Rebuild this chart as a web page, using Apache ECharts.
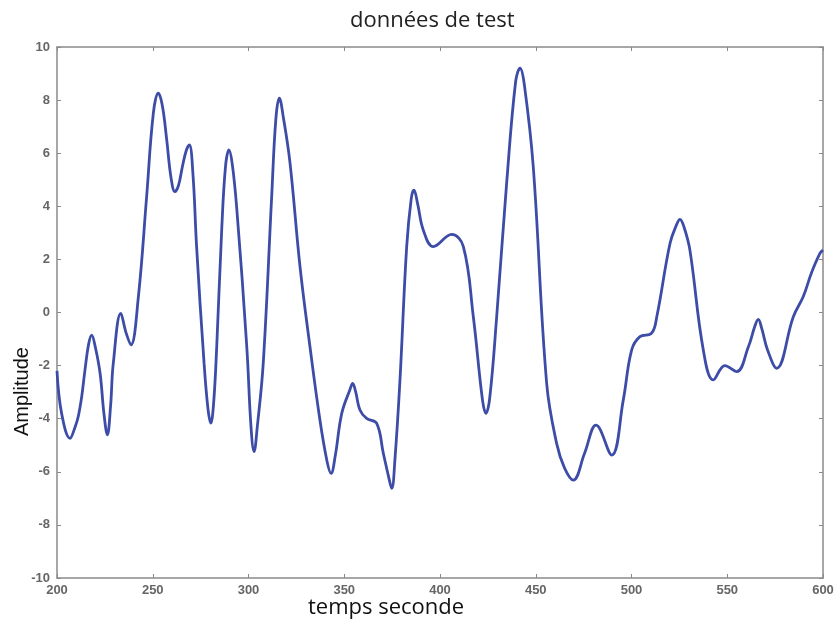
<!DOCTYPE html>
<html>
<head>
<meta charset="utf-8">
<script src="https://cdn.jsdelivr.net/npm/echarts@6/dist/echarts.min.js"></script>
<style>
  html, body { margin: 0; padding: 0; background: #fff; }
  #chart { width: 838px; height: 620px; }
</style>
</head>
<body>
<div id="chart"></div>
<script>
// Test signal: time (s) and amplitude samples
const timeSec = [
  200, 202.4, 206.8, 209.5, 211.1, 212.9, 214.6, 216.5, 218.1, 220,
  222.5, 224.5, 226.3, 228, 229.4, 233.3, 236, 238.6, 242.5, 246.8,
  250.3, 252.9, 255, 257.3, 259.5, 261.6, 263.5, 265.5, 267.5, 269.1,
  271, 272.9, 276.8, 278.8, 280.3, 281.8, 283.4, 286, 288, 289.8,
  291.5, 293.8, 299.1, 301.3, 302.9, 304.6, 307.7, 312.1, 314.3, 316.1,
  318.3, 321.7, 326.9, 332.1, 337.3, 341, 343.1, 345.3, 348.7, 353,
  354.4, 356, 358.2, 361.7, 366.9, 370.4, 373.2, 374.8, 376.5, 379.1,
  382.6, 385, 386.4, 388.3, 391.3, 396.5, 406.1, 412.2, 417.4, 422.2,
  424, 426, 429.6, 434.8, 439.5, 441.8, 444, 448.7, 455.7, 460.9,
  465, 469.6, 475.5, 481.5, 489.7, 495.7, 500.1, 504.4, 510.5, 513.2,
  520.1, 523.5, 525.3, 527.5, 530.5, 537.5, 542.7, 548.8, 554.9, 561,
  564.5, 566.2, 568, 571, 575.8, 584.5, 589.7, 594, 598.4, 600
];
const amplitude = [
  -2.2, -3.8, -4.74, -4.3, -3.92, -3.17, -2.17, -1.2, -0.85, -1.3,
  -2.29, -3.8, -4.61, -3.5, -1.91, -0.03, -0.75, -1.22, 0.6, 4.36,
  7.5, 8.26, 7.8, 6.5, 5.1, 4.55, 4.8, 5.5, 6.1, 6.31,
  5.2, 2.48, -1.91, -3.6, -4.17, -3.4, -1.29, 3.1, 5.5, 6.12,
  5.6, 3.98, -1.29, -4.3, -5.24, -4.3, -1.91, 4.36, 7.3, 8.07,
  7.3, 5.62, 1.73, -1.29, -4.05, -5.6, -6.06, -5.4, -3.8, -2.9,
  -2.67, -3.0, -3.67, -3.99, -4.17, -5.3, -6.2, -6.62, -5.5, -2.54,
  2.48, 4.3, 4.61, 4.1, 3.1, 2.48, 2.94, 2.48, -0.16, -3.3,
  -3.8, -3.2, -0.16, 4.87, 8.7, 9.2, 8.6, 5.49, -2.67, -4.93,
  -5.85, -6.31, -5.3, -4.24, -5.37, -3.3, -1.41, -0.91, -0.78, -0.16,
  2.6, 3.3, 3.51, 3.2, 2.35, -1.41, -2.54, -2.0, -2.23, -1.3,
  -0.5, -0.26, -0.6, -1.4, -2.1, -0.16, 0.6, 1.5, 2.23, 2.35
];

const chartTitle = 'données de test';
const xLabel = 'temps seconde';
const yLabel = 'Amplitude';

const points = timeSec.map((t, i) => [t, amplitude[i]]);

const chart = echarts.init(document.getElementById('chart'), null, { renderer: 'canvas' });

const boxColor = '#8a8a8a';
const tickFont = { color: '#666', fontSize: 13, fontWeight: 'bold', fontFamily: 'Liberation Sans, Arial, sans-serif' };

const baseX = {
  type: 'value', min: 200, max: 600, interval: 50,
  axisLine: { show: true, onZero: false, lineStyle: { color: boxColor, width: 1.5 } },
  axisTick: { show: true, inside: true, length: 4, lineStyle: { color: boxColor } },
  splitLine: { show: false }
};
const baseY = {
  type: 'value', min: -10, max: 10, interval: 2,
  axisLine: { show: true, onZero: false, lineStyle: { color: boxColor, width: 1.5 } },
  axisTick: { show: true, inside: true, length: 4, lineStyle: { color: boxColor } },
  splitLine: { show: false }
};

chart.setOption({
  backgroundColor: '#ffffff',
  animation: false,
  title: {
    text: chartTitle,
    left: 345,
    top: 5,
    textStyle: { fontSize: 22, fontWeight: 'normal', color: '#222', fontFamily: 'Open Sans, sans-serif' }
  },
  grid: { left: 57, right: 15, top: 47, bottom: 42 },
  xAxis: [
    Object.assign({}, baseX, {
      position: 'bottom',
      axisLabel: Object.assign({ margin: 6 }, tickFont)
    }),
    Object.assign({}, baseX, {
      position: 'top',
      axisLabel: { show: false }
    })
  ],
  yAxis: [
    Object.assign({}, baseY, {
      position: 'left',
      axisLabel: Object.assign({ margin: 7 }, tickFont)
    }),
    Object.assign({}, baseY, {
      position: 'right',
      axisLabel: { show: false }
    })
  ],
  graphic: [
    {
      type: 'text',
      left: 308, top: 597,
      style: { text: xLabel, fontSize: 22, fill: '#111', fontFamily: 'Open Sans, sans-serif' }
    },
    {
      type: 'text',
      x: 12, y: 436,
      rotation: Math.PI / 2,
      style: { text: yLabel, fontSize: 20, fill: '#111', fontFamily: 'Liberation Sans, Arial, sans-serif', textVerticalAlign: 'top' }
    }
  ],
  series: [{
    type: 'line',
    data: points,
    xAxisIndex: 0,
    yAxisIndex: 0,
    showSymbol: false,
    smooth: 0.4,
    lineStyle: { color: '#3d4ca6', width: 2.8 },
    clip: true
  }]
});
</script>
</body>
</html>
